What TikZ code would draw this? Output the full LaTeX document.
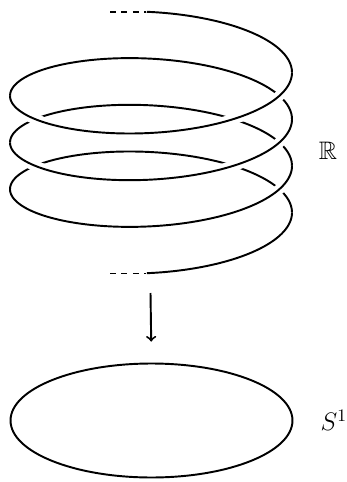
\documentclass[tikz,border=0pt]{standalone}
\usepackage{amsmath,amssymb}
\usepackage{tikz}
\usetikzlibrary{arrows,positioning,shapes.geometric}

\begin{document}
\begin{tikzpicture}[
  x=0.02cm, y=-0.02cm,
  font=\Large,
  coil/.style  = {line width=1.1pt, line join=round},
  over/.style  = {coil, preaction={draw, white, line width=6pt}},
  trail/.style = {line width=1.1pt, dash pattern=on 3.4pt off 3.1pt},
  circ/.style  = {ellipse, draw, line width=1.1pt, minimum width=5.64cm,
                  minimum height=2.28cm, inner sep=0pt},
  ar/.style    = {->, line width=1.1pt, shorten >=0.42cm},
]
\useasboundingbox (0,0) rectangle (347,482);

% ----------------------------- helix (the line R) -----------------------------
\draw[coil] plot[domain=-0.03:{7*pi+0.03}, samples=400, smooth]
  ({151+141*sin(\x r)}, {60.8-48.8*cos(\x r)+7.43*\x});
% front halves pass over the back halves
\foreach \k in {0,...,3}{
  \pgfmathsetmacro{\ta}{pi/2+2*pi*\k}
  \pgfmathsetmacro{\tb}{min(3*pi/2+2*pi*\k, 7*pi+0.03)}
  \draw[over] plot[domain=\ta:\tb, samples=120, smooth]
    ({151+141*sin(\x r)}, {60.8-48.8*cos(\x r)+7.43*\x});
}

% ----------------------------- loose ends -------------------------------------
\coordinate (tdash) at (110,12);
\coordinate (hstart) at (146,12);
\coordinate (bdash) at (110,273.5);
\coordinate (hend) at (146,273.5);
\draw[trail] (tdash) -- (hstart);
\draw[trail] (bdash) -- (hend);

\node (reals) at (328,151) {$\mathbb{R}$};

% ----------------------------- circle below -----------------------------------
\node[circ] (base) at (151.5,420.5) {};
\node[right=0.42cm of base] (sone) {$S^1$};

\coordinate (hbot) at (150.5,293);
\draw[ar] (hbot) -- (base.north);

\end{tikzpicture}
\end{document}
